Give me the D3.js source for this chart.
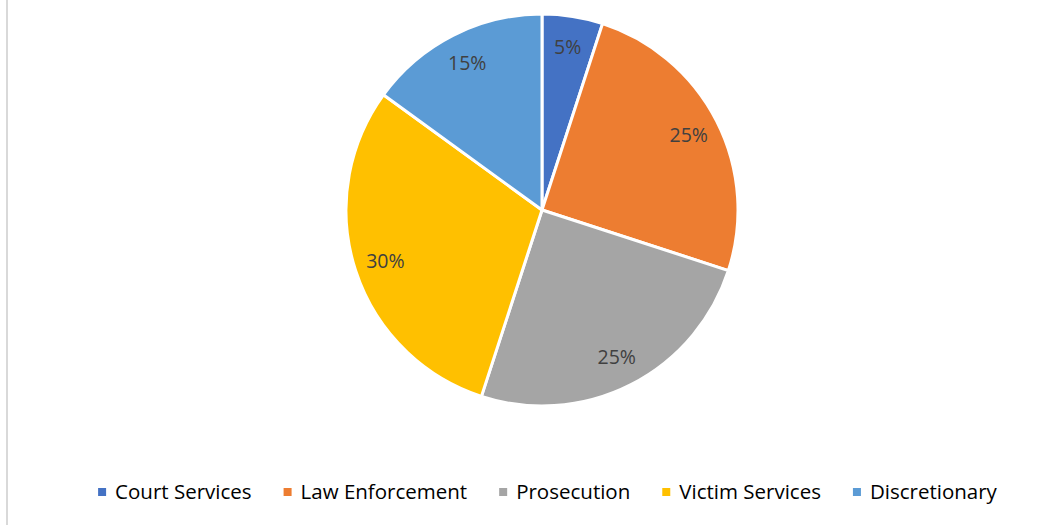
<!DOCTYPE html>
<html><head><meta charset="utf-8">
<script src="https://cdn.jsdelivr.net/npm/d3@7"></script>
<style>body{margin:0;background:#fff;}svg{display:block;font-family:"Open Sans",sans-serif;}</style>
</head><body>
<svg id="c" width="1062" height="525"></svg>
<script>
const categories = ["Court Services","Law Enforcement","Prosecution","Victim Services","Discretionary"];
const values = [5,25,25,30,15];
const colors = ["#4472C4","#ED7D31","#A5A5A5","#FFC000","#5B9BD5"];

const svg = d3.select("#c");
svg.append("rect").attr("x",0).attr("y",0).attr("width",1062).attr("height",525).attr("fill","#fff");
svg.append("line").attr("x1",7).attr("x2",7).attr("y1",0).attr("y2",525).attr("stroke","#d9d9d9").attr("stroke-width",2);

const cx=542, cy=210, R=196;
const pie = d3.pie().sort(null).value(d=>d);
const arcs = pie(values);
const arc = d3.arc().innerRadius(0).outerRadius(R);
const labelArc = d3.arc().innerRadius(R*0.84).outerRadius(R*0.84);
const g = svg.append("g").attr("transform",`translate(${cx},${cy})`);
g.selectAll("path").data(arcs).join("path")
  .attr("d",arc).attr("fill",(d,i)=>colors[i]).attr("stroke","#fff").attr("stroke-width",3).attr("stroke-linejoin","round");
const total = d3.sum(values);
g.selectAll("text").data(arcs).join("text")
  .attr("transform",d=>`translate(${labelArc.centroid(d)})`)
  .attr("text-anchor","middle").attr("dy","0.35em")
  .attr("fill","#404040").attr("font-size",19.5)
  .text(d=>Math.round(d.data/total*100)+"%");

// legend
const lg = svg.append("g");
const items = lg.selectAll("g").data(categories).join("g");
items.append("rect").attr("width",8).attr("height",8).attr("y",-4).attr("fill",(d,i)=>colors[i]);
items.append("text").attr("x",17).attr("dy","0.35em").attr("font-size",20.5).attr("fill","#000").text(d=>d);
let x=0; const pos=[];
items.each(function(){const w=d3.select(this).select("text").node().getComputedTextLength(); pos.push(x); x+=17+w+32;});
const totalW = x-32;
const startX = (93+1002)/2 - totalW/2;
items.attr("transform",(d,i)=>`translate(${startX+pos[i]},492)`);
</script>
</body></html>
